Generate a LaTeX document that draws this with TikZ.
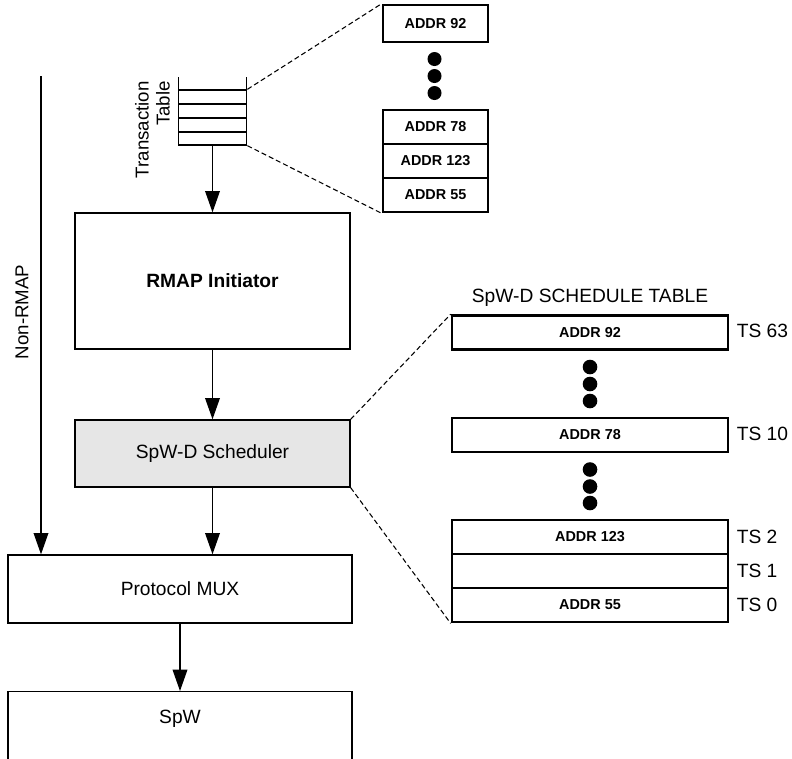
\documentclass[tikz,border=0pt]{standalone}
\usepackage{fontspec}
\setmainfont{Liberation Sans}
\usetikzlibrary{arrows.meta,calc}
\definecolor{schedgray}{HTML}{E6E6E6}
\newcommand\pxu{0.75pt}
\begin{document}
\begin{tikzpicture}[
  x=0.75pt, y=-0.75pt,
  txt/.style={inner sep=0pt, font=\fontsize{14.4}{17}\selectfont},
  block/.style={draw, line width=1pt, inner sep=0pt, font=\fontsize{14.4}{17}\selectfont},
  cell/.style={draw, line width=2pt, inner sep=0pt, font=\bfseries\fontsize{10.8}{13}\selectfont},
  flow/.style={-{Triangle[width=11pt,length=16pt]}, line width=1pt},
  zoomline/.style={dash pattern=on 3.75pt off 2.25pt, line width=0.8pt},
  tslabel/.style={anchor=west, inner sep=0pt, font=\fontsize{14.4}{17}\selectfont},
]
\useasboundingbox (0,0) rectangle (792,758);
\clip (0,0) rectangle (792,758);

% main processing chain
\node[block, minimum width=275*\pxu, minimum height=136*\pxu] (rmap) at (212.5,281) {\bfseries RMAP Initiator};
\node[block, fill=schedgray, minimum width=275*\pxu, minimum height=67*\pxu] (sched) at (212.5,453.5) {SpW-D Scheduler};
\node[block, minimum width=344*\pxu, minimum height=68*\pxu] (mux) at (180,589) {Protocol MUX};
\node[block, anchor=north, minimum width=344*\pxu, minimum height=120*\pxu] (spw) at (180,691) {};
\node[txt] (spwtext) at (180,719) {SpW};

% transaction table (stack of rows)
\node[draw, line width=1pt, inner sep=0pt, minimum width=68.4*\pxu, minimum height=55*\pxu] (ttab) at (212.5,117.5) {};
\draw[line width=1pt] (178.3,77) -- (178.3,90) (246.7,77) -- (246.7,90)
  (178.3,104) -- (246.7,104) (178.3,118) -- (246.7,118) (178.3,132) -- (246.7,132);
\node[rotate=90, anchor=east, align=right, inner sep=0pt, font=\fontsize{14}{15.8}\selectfont] (ttlabel) at (152.5,81) {Transaction\\Table};

% transaction table contents
\node[cell, minimum width=105*\pxu, minimum height=37*\pxu] (a92) at (435.5,23.5) {ADDR 92};
\node[cell, minimum width=105*\pxu, minimum height=34*\pxu] (a78) at (435.5,127) {ADDR 78};
\node[cell, minimum width=105*\pxu, minimum height=34*\pxu] (a123) at (435.5,161) {ADDR 123};
\node[cell, minimum width=105*\pxu, minimum height=34*\pxu] (a55) at (435.5,195) {ADDR 55};
\fill (434.5,59) circle [radius=7] (434.5,76) circle [radius=7] (434.5,93) circle [radius=7];
\draw[zoomline] (ttab.north east) -- (a92.north west);
\draw[zoomline] (ttab.south east) -- (a55.south west);

% schedule table
\node[txt] (stitle) at (590,297.5) {SpW-D SCHEDULE TABLE};
\node[cell, minimum width=276*\pxu, minimum height=34*\pxu] (s92) at (590,332.5) {ADDR 92};
\node[cell, minimum width=276*\pxu, minimum height=34*\pxu] (s78) at (590,435) {ADDR 78};
\node[cell, minimum width=276*\pxu, minimum height=34*\pxu] (s123) at (590,537) {ADDR 123};
\node[cell, minimum width=276*\pxu, minimum height=34*\pxu] (s1) at (590,571) {};
\node[cell, minimum width=276*\pxu, minimum height=34*\pxu] (s55) at (590,605) {ADDR 55};
\fill (590,367) circle [radius=7.3] (590,384) circle [radius=7.3] (590,401) circle [radius=7.3];
\fill (590,469.5) circle [radius=7.3] (590,486.5) circle [radius=7.3] (590,503) circle [radius=7.3];
\node[tslabel] (ts63) at (736.5,331) {TS 63};
\node[tslabel] (ts10) at (736.5,434) {TS 10};
\node[tslabel] (ts2) at (736.5,537) {TS 2};
\node[tslabel] (ts1) at (736.5,571) {TS 1};
\node[tslabel] (ts0) at (736.5,605) {TS 0};
\draw[zoomline] (sched.north east) -- (s92.north west);
\draw[zoomline] (sched.south east) -- (s55.south west);

% data flow
\draw[flow] (ttab.south) -- (rmap.north);
\draw[flow] (rmap.south) -- (sched.north);
\draw[flow] (sched.south) -- (sched.south |- mux.north);
\draw[flow] (mux.south) -- (spw.north);
\coordinate (nrtop) at (41,76);
\draw[flow] (nrtop) -- (nrtop |- mux.north);
\node[rotate=90, inner sep=0pt, font=\fontsize{14}{16}\selectfont] (nrlabel) at (22,312) {Non-RMAP};
\end{tikzpicture}
\end{document}
